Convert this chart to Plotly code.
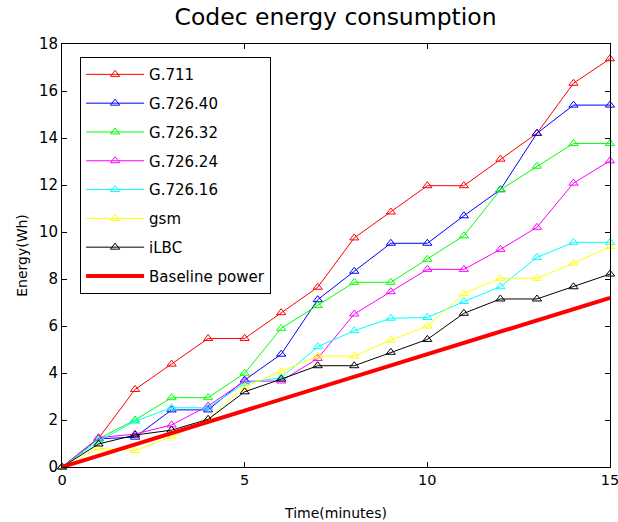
import plotly.graph_objects as go

minutes = list(range(16))

g711 = [0, 1.22, 3.3, 4.38, 5.47, 5.47, 6.57, 7.65, 9.75, 10.85, 11.97, 11.97, 13.1, 14.2, 16.33, 17.37]
g726_40 = [0, 1.2, 1.27, 2.43, 2.43, 3.7, 4.8, 7.12, 8.33, 9.52, 9.52, 10.69, 11.8, 14.2, 15.4, 15.4]
g726_32 = [0, 1.2, 2.0, 2.95, 2.95, 3.99, 5.9, 6.87, 7.86, 7.86, 8.84, 9.84, 11.8, 12.8, 13.77, 13.77]
g726_24 = [0, 1.25, 1.4, 1.79, 2.6, 3.65, 3.66, 4.62, 6.51, 7.46, 8.41, 8.41, 9.26, 10.2, 12.08, 13.03]
g726_16 = [0, 1.1, 1.95, 2.52, 2.52, 3.57, 3.8, 5.12, 5.8, 6.33, 6.36, 7.04, 7.67, 8.92, 9.56, 9.56]
gsm = [0, 0.8, 0.7, 1.29, 2.03, 3.42, 4.06, 4.72, 4.72, 5.4, 6.0, 7.39, 8.03, 8.03, 8.67, 9.38]
ilbc = [0, 0.98, 1.36, 1.57, 2.03, 3.2, 3.74, 4.31, 4.31, 4.88, 5.43, 6.54, 7.15, 7.15, 7.67, 8.21]

baseline_time = [0, 15]
baseline_energy = [0, 7.2]

series = [
    ("G.711", g711, "#ff0000"),
    ("G.726.40", g726_40, "#0000ff"),
    ("G.726.32", g726_32, "#00ff00"),
    ("G.726.24", g726_24, "#ff00ff"),
    ("G.726.16", g726_16, "#00ffff"),
    ("gsm", gsm, "#ffff00"),
    ("iLBC", ilbc, "#000000"),
]

x_ticks = [0, 5, 10, 15]
y_ticks = [0, 2, 4, 6, 8, 10, 12, 14, 16, 18]

FONT = "DejaVu Sans, Arial, sans-serif"

fig = go.Figure()
for name, vals, col in series:
    fig.add_trace(go.Scatter(
        x=minutes, y=vals, name=name, mode="lines+markers",
        line=dict(color=col, width=1),
        marker=dict(symbol="triangle-up-open", size=8, color=col, line=dict(width=1, color=col)),
        legendgroup=name, cliponaxis=False,
    ))
fig.add_trace(go.Scatter(
    x=baseline_time, y=baseline_energy, name="Baseline power", mode="lines",
    line=dict(color="#ff0000", width=4), legendgroup="base",
))

fig.update_layout(
    width=618, height=522,
    margin=dict(l=62, r=8, t=44, b=55),
    paper_bgcolor="white", plot_bgcolor="white",
    font=dict(family=FONT, size=14, color="black"),
    title=dict(text="Codec energy consumption", x=0.543, xanchor="center", y=0.967, yanchor="middle",
               font=dict(family=FONT, size=23.5, color="black")),
    legend=dict(x=0.033, y=0.969, xanchor="left", yanchor="top",
                bordercolor="black", borderwidth=1, bgcolor="white",
                font=dict(family=FONT, size=15, color="black"),
                tracegroupgap=6.3, itemwidth=58),
    showlegend=True,
)
fig.update_xaxes(
    range=[0, 15], tickvals=x_ticks, ticks="inside", ticklen=5, tickcolor="black",
    showline=True, linecolor="black", linewidth=1, mirror="ticks", showgrid=False, zeroline=False,
    automargin=False, tickfont=dict(size=14.5), ticklabeloverflow="allow",
    title=dict(text="Time(minutes)", standoff=20, font=dict(size=14)),
)
fig.update_yaxes(
    range=[0, 18], tickvals=y_ticks, ticks="inside", ticklen=5, tickcolor="black",
    showline=True, linecolor="black", linewidth=1, mirror="ticks", showgrid=False, zeroline=False,
    automargin=False, tickfont=dict(size=15),
    title=dict(text="Energy(Wh)", standoff=8, font=dict(size=14)),
)

fig.write_html("out.html")
